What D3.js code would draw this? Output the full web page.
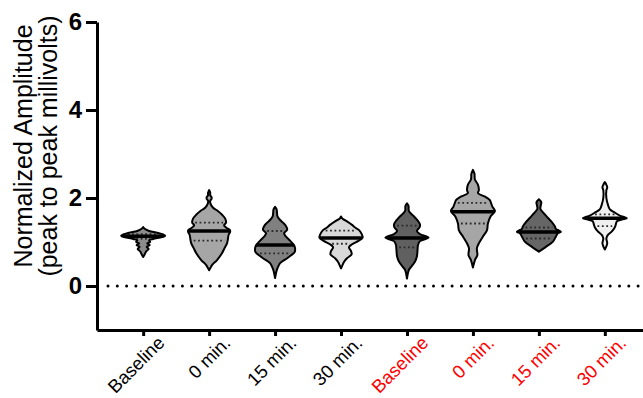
<!DOCTYPE html>
<html>
<head>
<meta charset="utf-8">
<script src="https://cdn.jsdelivr.net/npm/d3@7"></script>
<style>
  body { margin: 0; background: #fff; }
  svg { display: block; }
  text { font-family: "Liberation Sans", Arial, sans-serif; }
</style>
</head>
<body>
<svg id="chart" width="643" height="398"></svg>
<script>
// Groups along the x axis; the second cohort is labelled in red
const categories = ["Baseline", "0 min.", "15 min.", "30 min.", "Baseline", "0 min.", "15 min.", "30 min."];
const cohort = [0, 0, 0, 0, 1, 1, 1, 1];

// Summary statistics per group (normalized amplitude)
const medians   = [1.13, 1.25, 0.93, 1.09, 1.09, 1.69, 1.23, 1.54];
const quartile1 = [1.07, 1.03, 0.74, 0.96, 0.88, 1.42, 1.08, 1.36];
const quartile3 = [1.18, 1.44, 1.25, 1.26, 1.37, 1.89, 1.33, 1.63];

const yTicks = [0, 2, 4, 6];

// Violin outlines: [value, relative density]
const densityA0 = [[1.34,0],[1.30,.07],[1.25,.27],[1.21,.64],[1.17,.91],[1.14,1],[1.11,.86],[1.07,.45],[1.04,.27],[1.00,.32],[0.97,.18],[0.93,.30],[0.89,.16],[0.84,.25],[0.79,.14],[0.72,.07],[0.66,0]];
const densityA1 = [[2.18,0],[2.12,.05],[2.06,.05],[2.02,.11],[1.98,.11],[1.94,.05],[1.86,.07],[1.78,.18],[1.70,.41],[1.62,.59],[1.53,.73],[1.44,.77],[1.38,.68],[1.33,.77],[1.27,.95],[1.22,.95],[1.17,.89],[0.98,.82],[0.86,.70],[0.75,.59],[0.59,.36],[0.48,.14],[0.42,.07],[0.36,0]];
const densityA2 = [[1.80,0],[1.74,.07],[1.58,.11],[1.50,.23],[1.44,.36],[1.36,.50],[1.28,.55],[1.20,.41],[1.12,.50],[1.03,.68],[0.93,.86],[0.85,.91],[0.77,.89],[0.70,.73],[0.63,.55],[0.52,.23],[0.44,.14],[0.35,.07],[0.18,0]];
const densityA3 = [[1.58,0],[1.53,.07],[1.47,.27],[1.39,.50],[1.33,.64],[1.27,.82],[1.19,.93],[1.10,.98],[1.02,.77],[0.95,.50],[0.88,.36],[0.80,.45],[0.72,.48],[0.63,.27],[0.55,.14],[0.48,.07],[0.40,0]];
const densityB0 = [[1.88,0],[1.82,.07],[1.70,.09],[1.58,.32],[1.48,.50],[1.40,.59],[1.33,.57],[1.25,.45],[1.18,.59],[1.10,.98],[1.02,.59],[0.93,.50],[0.82,.48],[0.67,.45],[0.55,.36],[0.44,.20],[0.37,.09],[0.17,0]];
const densityB1 = [[2.64,0],[2.55,.07],[2.42,.09],[2.30,.23],[2.18,.27],[2.11,.23],[2.03,.55],[1.95,.77],[1.89,.82],[1.80,.89],[1.70,1],[1.58,.80],[1.42,.68],[1.27,.64],[1.12,.45],[0.97,.27],[0.86,.18],[0.70,.20],[0.59,.09],[0.42,0]];
const densityB2 = [[1.97,0],[1.90,.11],[1.84,.09],[1.75,.07],[1.60,.32],[1.45,.59],[1.35,.73],[1.30,.77],[1.26,.91],[1.23,1],[1.20,.86],[1.12,.77],[1.01,.64],[0.89,.32],[0.78,0]];
const densityB3 = [[2.36,0],[2.30,.07],[2.24,.11],[2.18,.07],[2.00,.07],[1.85,.14],[1.74,.23],[1.67,.45],[1.60,.68],[1.56,.91],[1.54,1],[1.51,.77],[1.47,.55],[1.40,.50],[1.33,.45],[1.24,.32],[1.16,.14],[1.08,.07],[0.97,.11],[0.90,.07],[0.83,0]];
const densities = [densityA0, densityA1, densityA2, densityA3, densityB0, densityB1, densityB2, densityB3];

const fills = ["#8c8c8c", "#a6a6a6", "#808080", "#d9d9d9", "#606060", "#a6a6a6", "#666666", "#efefef"];
const labelColors = ["#000000", "#ff0000"];

const svg = d3.select("#chart");

const y = d3.scaleLinear().domain([-1, 6]).range([330, 22]);
const x = d3.scalePoint().domain(d3.range(categories.length)).range([97, 651]).padding(0.7);
const halfWidth = d3.scaleLinear().domain([0, 1]).range([0, 22]);

// Zero reference line
svg.append("line")
  .attr("x1", 108).attr("x2", 643)
  .attr("y1", y(0)).attr("y2", y(0))
  .attr("stroke", "#000").attr("stroke-width", 3)
  .attr("stroke-linecap", "round")
  .attr("stroke-dasharray", "0,9.3");

// Interpolated half width of a profile at a given value
function widthAt(profile, v) {
  for (let i = 0; i < profile.length - 1; i++) {
    const a = profile[i], b = profile[i + 1];
    if (v <= a[0] && v >= b[0]) {
      const t = (a[0] - v) / (a[0] - b[0]);
      return a[1] + t * (b[1] - a[1]);
    }
  }
  return 0;
}

const defs = svg.append("defs");

densities.forEach((profile, i) => {
  const cx = x(i);
  const area = d3.area()
    .y(d => y(d[0]))
    .x0(d => cx - halfWidth(d[1]))
    .x1(d => cx + halfWidth(d[1]))
    .curve(d3.curveCatmullRom.alpha(0.5));
  const pathD = area(profile);

  defs.append("clipPath").attr("id", "clip" + i)
    .append("path").attr("d", pathD);

  const g = svg.append("g");
  g.append("path").attr("d", pathD).attr("fill", fills[i]).attr("stroke", "none");

  // Quartiles
  [quartile1[i], quartile3[i]].forEach(q => {
    const w = Math.max(0, halfWidth(widthAt(profile, q)) - 3);
    g.append("line")
      .attr("x1", cx - w).attr("x2", cx + w)
      .attr("y1", y(q)).attr("y2", y(q))
      .attr("stroke", "#2a2a2a").attr("stroke-width", 1.8)
      .attr("stroke-dasharray", "1.8,2.6");
  });

  // Median
  g.append("line")
    .attr("clip-path", "url(#clip" + i + ")")
    .attr("x1", cx - 30).attr("x2", cx + 30)
    .attr("y1", y(medians[i])).attr("y2", y(medians[i]))
    .attr("stroke", "#000").attr("stroke-width", 3.5);

  g.append("path").attr("d", pathD)
    .attr("fill", "none").attr("stroke", "#000")
    .attr("stroke-width", 2).attr("stroke-linejoin", "round");
});

// Y axis
const yAxis = svg.append("g")
  .attr("transform", "translate(97,0)")
  .call(d3.axisLeft(y).tickValues(yTicks).tickFormat(d3.format("d"))
    .tickSize(11).tickSizeOuter(0).tickPadding(4));
yAxis.select(".domain").attr("stroke-width", 3);
yAxis.selectAll(".tick line").attr("stroke-width", 3);
yAxis.selectAll(".tick text")
  .attr("font-size", 24).attr("font-weight", "bold")
  .attr("font-family", "'Liberation Sans', Arial, sans-serif")
  .attr("fill", "#000");

// X axis
const xAxis = svg.append("g")
  .attr("transform", "translate(0,330)")
  .call(d3.axisBottom(x).tickSize(6).tickSizeOuter(0).tickFormat(i => categories[i]));
xAxis.select(".domain").attr("stroke-width", 3);
xAxis.selectAll(".tick line").attr("stroke-width", 3);
xAxis.selectAll(".tick text")
  .attr("font-size", 18.5)
  .attr("font-family", "'Liberation Sans', Arial, sans-serif")
  .attr("fill", i => labelColors[cohort[i]])
  .attr("text-anchor", "end")
  .attr("dy", null)
  .attr("y", 0)
  .attr("transform", "translate(22,14) rotate(-45)");

// Y axis title
const title = svg.append("text")
  .attr("transform", "translate(0,146) rotate(-90)")
  .attr("text-anchor", "middle")
  .attr("font-size", 25)
  .attr("fill", "#000");
title.append("tspan").attr("x", 0).attr("y", 32).text("Normalized Amplitude");
title.append("tspan").attr("x", 0).attr("y", 57).text("(peak to peak millivolts)");
</script>
</body>
</html>
